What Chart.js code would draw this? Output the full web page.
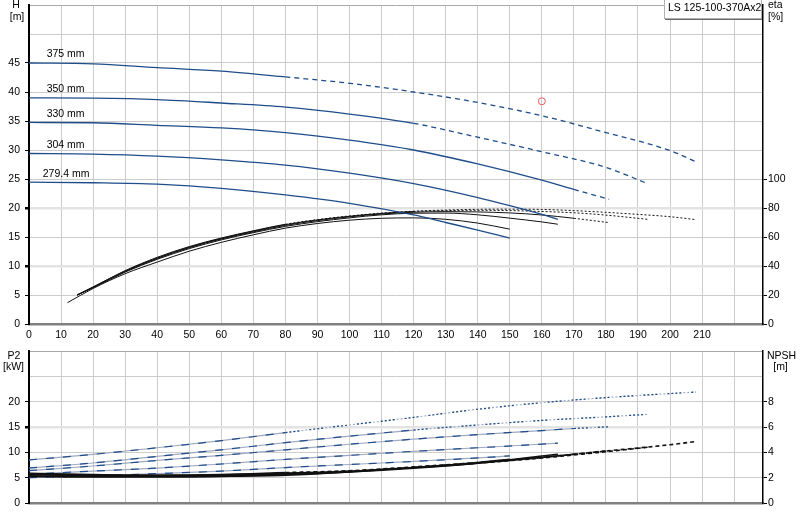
<!DOCTYPE html>
<html><head><meta charset="utf-8">
<script src="https://cdn.jsdelivr.net/npm/chart.js@4.4.1/dist/chart.umd.min.js"></script>
<style>
html,body{margin:0;padding:0;background:#fff;width:800px;height:520px;overflow:hidden}
canvas{position:absolute;left:0}
#top{top:0}
#bot{top:345px}
</style></head><body>
<canvas id="top" width="800" height="345"></canvas>
<canvas id="bot" width="800" height="175"></canvas>
<script>
// ---------- data ----------
const diameters = ['375 mm','350 mm','330 mm','304 mm','279.4 mm'];
const dashFromQ = [80, 120, 170, 999, 999];

const qH375 = [0,20,40,60,80,100,120,140,160,180,200,208];
const h375  = [45.0,44.85,44.2,43.6,42.6,41.5,40.0,38.2,35.9,33.0,29.9,28.0];
const qH350 = [0,20,40,60,80,100,120,140,160,180,193];
const h350  = [39.0,38.95,38.7,38.1,37.4,36.2,34.6,32.2,29.7,27.0,24.2];
const qH330 = [0,20,40,60,80,100,120,140,160,170,181];
const h330  = [34.75,34.7,34.25,33.8,33.0,31.7,30.0,27.6,24.8,23.2,21.5];
const qH304 = [0,20,40,60,80,100,120,140,150,160,165];
const h304  = [29.4,29.3,28.95,28.3,27.4,26.0,24.2,21.8,20.4,18.9,18.05];
const qH279 = [0,20,40,60,80,100,120,130,140,150];
const h279  = [24.45,24.35,24.1,23.4,22.25,20.8,18.8,17.5,16.2,14.8];

const qE375 = [15,20,30,40,50,60,70,80,90,100,110,120,130,140,150,160,170,180,190,200,208];
const e375  = [20,25.5,36.8,46,53.4,59.3,64.3,68.8,72,74.5,76.5,77.8,78.6,79.1,79.2,79,78.2,77,75.6,74,72];
const qE350 = [15,20,30,40,50,60,70,80,90,100,110,120,130,140,150,160,170,180,193];
const e350  = [20,25.5,36.5,45.5,53,59,64,68.5,71.8,74.3,76.3,77.6,78.2,78.4,78.2,77.6,76.7,75.1,72.2];
const qE330 = [15,20,30,40,50,60,70,80,90,100,110,120,130,140,150,160,170,181];
const e330  = [20,25.3,36.2,45.2,52.6,58.6,63.5,68,71.3,73.9,75.9,77.1,77.5,77.3,76.6,75.2,72.9,69.9];
const qE304 = [15,20,30,40,50,60,70,80,90,100,110,120,130,140,150,160,165];
const e304  = [20,25,35.8,44.6,52,58,63,67.3,70.6,73.2,75.3,76.4,76.5,75.3,73,70.4,68.8];
const qE279 = [12,20,30,40,50,60,70,80,90,100,110,120,130,140,150];
const e279  = [14.7,24.5,34.7,42.7,50.2,56.3,61.5,66.1,69.3,71.6,72.9,73.2,72.2,69.6,65.4];

const qP375 = [0,20,40,60,80,100,120,140,160,180,200,208];
const p375  = [8.5,9.6,10.9,12.3,13.9,15.4,16.9,18.5,19.8,20.8,21.6,21.9];
const qP350 = [0,20,40,60,80,100,120,140,160,180,193];
const p350  = [6.9,7.9,9.2,10.5,11.9,13.2,14.4,15.4,16.3,17.0,17.5];
const qP330 = [0,20,40,60,80,100,120,140,160,170,181];
const p330  = [6.4,7.3,8.4,9.4,10.5,11.6,12.6,13.5,14.3,14.7,15.05];
const qP304 = [0,20,40,60,80,100,120,140,165];
const p304  = [5.7,6.3,6.9,7.7,8.6,9.4,10.2,10.9,11.8];
const qP279 = [0,20,40,60,80,100,120,140,150];
const p279  = [5.0,5.4,5.8,6.3,7.0,7.6,8.2,8.9,9.3];

const qN375 = [0,20,40,60,80,100,120,140,160,180,200,208];
const n375  = [2.35,2.25,2.2,2.25,2.4,2.55,2.85,3.2,3.6,4.1,4.6,4.85];
const qN350 = [0,20,40,60,80,100,120,140,160,180,193];
const n350  = [2.3,2.2,2.15,2.2,2.35,2.5,2.8,3.15,3.55,4.05,4.4];
const qN330 = [0,20,40,60,80,100,120,140,160,170,181];
const n330  = [2.25,2.15,2.15,2.2,2.3,2.5,2.8,3.15,3.6,3.85,4.15];
const qN304 = [0,20,40,60,80,100,120,140,165];
const n304  = [2.15,2.1,2.1,2.15,2.25,2.45,2.75,3.15,3.85];
const qN279 = [0,20,40,60,80,100,120,140,150];
const n279  = [2.1,2.05,2.05,2.1,2.2,2.45,2.8,3.2,3.45];

const dutyQ = [160], dutyH = [38.4];
const labelQ = [5.5,5.5,5.5,5.5,4.3];

const xTicksMax = 210, hLabelMax = 45, etaLabelMax = 100, p2LabelMax = 20, npshLabelMax = 8;

// ---------- helpers ----------
Chart.defaults.font = {family:'"Liberation Sans", Arial, sans-serif', size:10.5};
Chart.defaults.color = '#000';
const FONT = '10.5px "Liberation Sans", Arial, sans-serif';
const pts = (qs, vs) => qs.map((q,i)=>({x:q, y:vs[i]}));
function curve(qs, vs, color, axis, dashFrom, dash, width, solidDash){
  return {type:'line', data:pts(qs,vs), yAxisID:axis, borderColor:color, borderWidth:width,
    pointRadius:0, fill:false, cubicInterpolationMode:'monotone',
    segment:{borderDash: c => (c.p0.parsed.x >= dashFrom ? dash : (solidDash || undefined))}};
}
const BLUE = '#1f4d8a', P2BASE = '#a0a9c0', P2BLUE = '#1f4d8a', BLK = '#111111';
const gridCol = '#cccccc';

const Hs = [[qH375,h375],[qH350,h350],[qH330,h330],[qH304,h304],[qH279,h279]];
const Es = [[qE375,e375],[qE350,e350],[qE330,e330],[qE304,e304],[qE279,e279]];
const Ps = [[qP375,p375],[qP350,p350],[qP330,p330],[qP304,p304],[qP279,p279]];
const Ns = [[qN375,n375],[qN350,n350],[qN330,n330],[qN304,n304],[qN279,n279]];

function noPad(s){ s.paddingTop = 0; s.paddingBottom = 0; s.paddingLeft = 0; s.paddingRight = 0; }
function xScale(showLabels, h){
  return {type:'linear', min:0, max:229, position:'bottom',
    afterFit: s => { s.height = h; noPad(s); },
    ticks:{stepSize:10, includeBounds:false, autoSkip:false, maxRotation:0, padding:5,
      callback: v => (showLabels && v <= xTicksMax) ? String(v) : ''},
    grid:{color:gridCol, lineWidth:1, drawTicks:false},
    border:{color:'#808080', width:2.5}};
}
function yLeft(max, step, labelMax, thick){
  return {type:'linear', position:'left', min:0, max:max,
    afterFit: s => { s.width = 29; noPad(s); },
    ticks:{stepSize:step, padding:5, callback: v => v <= labelMax ? String(v) : ''},
    grid:{color: c => (c.tick && thick.includes(c.tick.value)) ? '#e3e3e3' : (c.tick && c.tick.value===max ? '#a8a8a8' : gridCol),
          lineWidth: c => (c.tick && thick.includes(c.tick.value)) ? 2.5 : 1,
          tickLength:4, tickColor: c => (c.tick && c.tick.value <= labelMax) ? '#000' : 'rgba(0,0,0,0)'},
    border:{color:'#000', width:2}};
}
function yRight(max, step, labelMax){
  return {type:'linear', position:'right', min:0, max:max,
    afterFit: s => { s.width = 37; noPad(s); },
    ticks:{stepSize:step, padding:1, callback: v => v <= labelMax ? String(v) : ''},
    grid:{drawOnChartArea:false, tickLength:4, tickColor: c => (c.tick && c.tick.value <= labelMax) ? '#000' : 'rgba(0,0,0,0)'},
    border:{color:'#000', width:1.5}};
}
function text(ctx, s, x, y, align){
  ctx.save(); ctx.font = FONT; ctx.fillStyle = '#000'; ctx.textAlign = align || 'left';
  ctx.textBaseline = 'middle'; ctx.fillText(s, x, y); ctx.restore();
}

// ---------- top chart ----------
const topSets = [];
topSets.push({type:'line', data:pts(dutyQ,dutyH), yAxisID:'y', showLine:false, pointRadius:3.5,
  pointBorderColor:'#e8585a', pointBackgroundColor:'rgba(0,0,0,0)', pointBorderWidth:1});
Hs.forEach((c,i)=> topSets.push(curve(c[0], c[1], BLUE, 'y', dashFromQ[i], [5,4], 1.3)));
Es.forEach((c,i)=> topSets.push(curve(c[0], c[1], BLK, 'y2', dashFromQ[i], [2,2], 1)));

const topPlugin = {id:'topText', afterDraw(chart){
  const ctx = chart.ctx, xs = chart.scales.x, ys = chart.scales.y;
  Hs.forEach((c,i)=>{
    text(ctx, diameters[i], xs.getPixelForValue(labelQ[i]), ys.getPixelForValue(c[1][0]) - 8.5, 'left');
  });
  text(ctx, 'H', 16, 5, 'center');
  text(ctx, '[m]', 17, 17, 'center');
  text(ctx, 'eta', 768, 5, 'left');
  text(ctx, '[%]', 768, 17, 'left');
  text(ctx, 'Q [m³/h]', 740, xs.bottom + 11.5, 'center');
  ctx.save();
  ctx.fillStyle = '#fff'; ctx.fillRect(664, -1, 98, 20);
  ctx.strokeStyle = '#b0b0b0'; ctx.lineWidth = 1; ctx.strokeRect(664.5, -1.5, 97, 20);
  ctx.strokeStyle = '#6a6a6a'; ctx.beginPath(); ctx.moveTo(665, 19.5); ctx.lineTo(762, 19.5); ctx.stroke();
  ctx.restore();
  text(ctx, 'LS 125-100-370Ax2', 668, 8, 'left');
}};

new Chart(document.getElementById('top'), {
  type:'line', data:{datasets:topSets},
  options:{responsive:false, animation:false, events:[],
    layout:{padding:{top:1, left:0, right:0, bottom:0}},
    plugins:{legend:{display:false}, tooltip:{enabled:false}},
    scales:{x:xScale(true, 21), y:yLeft(55, 5, hLabelMax, [10,20]), y2:yRight(220, 20, etaLabelMax)}},
  plugins:[topPlugin]
});

// ---------- bottom chart ----------
const botSets = [];
Ns.forEach((c,i)=> botSets.push(curve(c[0], c[1], BLK, 'y2', dashFromQ[i], [4,3], 1.6)));
// P2: blue dashes over a light grey-blue base line (two-tone look of the reference)
Ps.forEach((c,i)=> botSets.push(curve(c[0], c[1], P2BLUE, 'y', dashFromQ[i], [2,2,2,2,2,2,2,10], 1.2, [8,9])));
Ps.forEach((c,i)=> botSets.push(curve(c[0], c[1], P2BASE, 'y', dashFromQ[i], [2,2], 1.2)));

const botPlugin = {id:'botText', afterDraw(chart){
  const ctx = chart.ctx;
  text(ctx, 'P2', 14, 10.7, 'center');
  text(ctx, '[kW]', 13.5, 21.7, 'center');
  text(ctx, 'NPSH', 767, 10.7, 'left');
  text(ctx, '[m]', 780.5, 21.7, 'center');
}};

new Chart(document.getElementById('bot'), {
  type:'line', data:{datasets:botSets},
  options:{responsive:false, animation:false, events:[],
    layout:{padding:{top:6, left:0, right:0, bottom:0}},
    plugins:{legend:{display:false}, tooltip:{enabled:false}},
    scales:{x:xScale(false, 17), y:yLeft(30, 5, p2LabelMax, [15]), y2:yRight(12, 2, npshLabelMax)}},
  plugins:[botPlugin]
});
</script></body></html>
